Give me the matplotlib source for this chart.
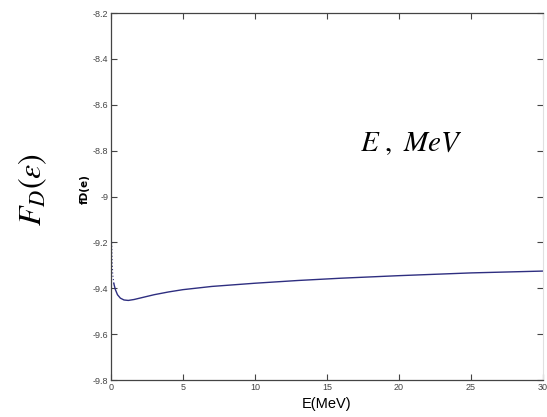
import matplotlib
matplotlib.use("Agg")
import matplotlib.pyplot as plt

# Data
energy = [0.05, 0.08, 0.12, 0.2, 0.3, 0.45, 0.65, 0.9, 1.2, 1.6, 2.0, 3.0, 4.0, 5.0,
          7.0, 10.0, 13.0, 16.0, 20.0, 25.0, 30.0]
fd = [-9.20, -9.28, -9.34, -9.38, -9.405, -9.428, -9.443, -9.451, -9.453, -9.449,
      -9.443, -9.428, -9.416, -9.406, -9.392, -9.378, -9.366, -9.356, -9.345, -9.333,
      -9.325]
n_dotted = 4  # the steep start is drawn sparsely (dotted) in the reference

x_ticks = [0, 5, 10, 15, 20, 25, 30]
y_ticks = [-8.2, -8.4, -8.6, -8.8, -9.0, -9.2, -9.4, -9.6, -9.8]
y_tick_labels = ["-8.2", "-8.4", "-8.6", "-8.8", "-9", "-9.2", "-9.4", "-9.6", "-9.8"]

narrow = ["Liberation Sans Narrow", "Liberation Sans", "DejaVu Sans"]

fig = plt.figure(figsize=(5.47, 4.17), dpi=100)
ax = fig.add_axes([0.2029, 0.0887, 0.7898, 0.880])

line_color = "#2e2e80"
ax.plot(energy[:n_dotted], fd[:n_dotted], color=line_color, lw=0.8, ls=(0, (1, 2)))
ax.plot(energy[n_dotted - 1:], fd[n_dotted - 1:], color=line_color, lw=1.0)

ax.set_xlim(0, 30)
ax.set_ylim(-9.8, -8.2)
ax.set_xticks(x_ticks)
ax.set_xticklabels([str(t) for t in x_ticks], family=narrow, fontsize=6.5, color="#444444")
ax.set_yticks(y_ticks)
ax.set_yticklabels(y_tick_labels, family=narrow, fontsize=6.5, color="#444444")
ax.tick_params(direction="in", length=4, width=0.8, top=True, right=True, pad=2,
               colors="#444444")
for side in ["left", "bottom", "top"]:
    ax.spines[side].set_color("#444444")
    ax.spines[side].set_linewidth(0.9)
ax.spines["right"].set_color("#e0e0e0")
ax.spines["right"].set_linewidth(0.8)

ax.set_xlabel("E(MeV)", family=narrow, fontsize=10.5, labelpad=4)
ax.set_ylabel("fD(e)", family="DejaVu Sans", fontsize=7.5, fontweight="bold")
ax.yaxis.set_label_coords(-0.048, 0.52)

fig.text(0.059, 0.545, r"$F_D(\varepsilon)$", rotation=90, ha="center", va="center",
         fontsize=23, math_fontfamily="stix")
fig.text(0.752, 0.657, r"$E\ ,\ MeV$", ha="center", va="center", fontsize=21,
         math_fontfamily="stix")

fig.savefig("out.png", dpi=100)
